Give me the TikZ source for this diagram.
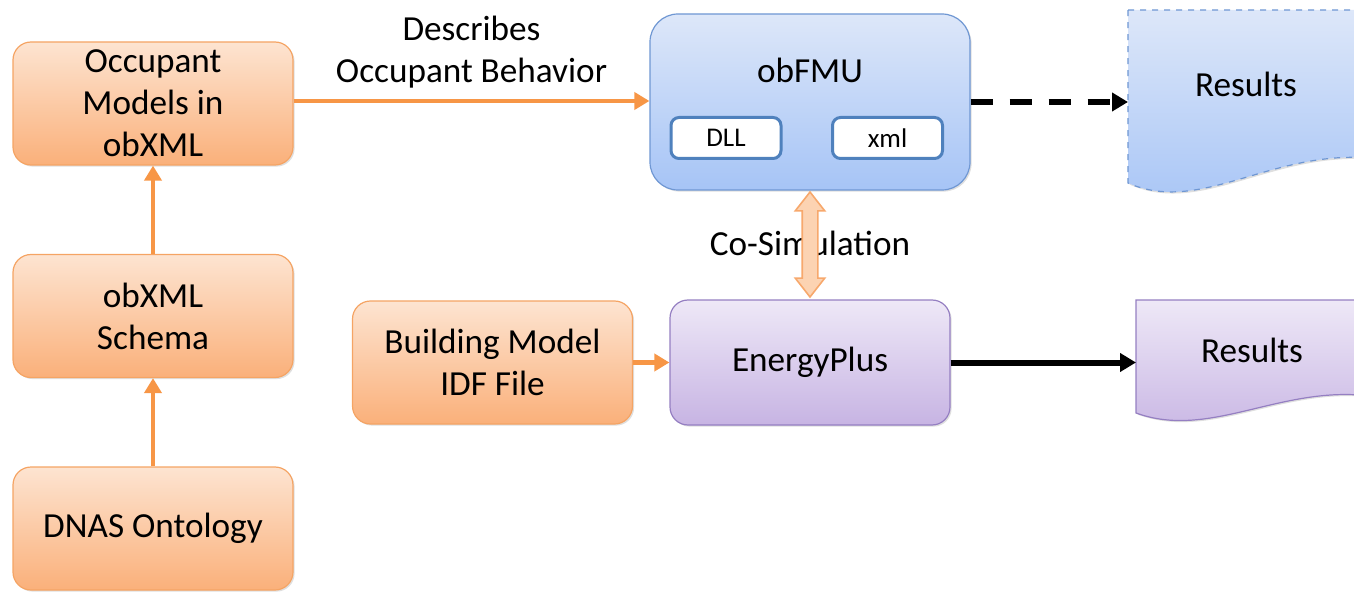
\documentclass[tikz,border=0pt]{standalone}
\usepackage{fontspec}
\setmainfont{Carlito}
\usetikzlibrary{arrows.meta,shapes.arrows,shadows}

\definecolor{orangeline}{HTML}{F5A464}
\definecolor{orangetop}{HTML}{FDE4D1}
\definecolor{orangebot}{HTML}{FAB07A}
\definecolor{orangearrow}{HTML}{F79646}
\definecolor{bluetop}{HTML}{DDE7F9}
\definecolor{bluebot}{HTML}{A6C4F6}
\definecolor{blueline}{HTML}{6F97D3}
\definecolor{innerline}{HTML}{4F81BD}
\definecolor{purpletop}{HTML}{EEE8F7}
\definecolor{purplebot}{HTML}{C7B4E3}
\definecolor{purpleline}{HTML}{957FC2}
\definecolor{cosimfill}{HTML}{FCD3B2}
\definecolor{cosimline}{HTML}{F7A86C}

\tikzset{
	txt/.style={font=\fontsize{17.6}{21}\selectfont, align=center, text=black},
	softshadow/.style={drop shadow={opacity=0.25, shadow xshift=0.8pt, shadow yshift=-0.8pt}},
	orangebox/.style={txt, draw=orangeline, line width=0.6pt, rounded corners=9pt, top color=orangetop, bottom color=orangebot, minimum width=140pt, minimum height=61.5pt, softshadow},
	purplebox/.style={txt, draw=purpleline, line width=0.6pt, rounded corners=9pt, top color=purpletop, bottom color=purplebot, minimum width=140pt, minimum height=62.5pt, softshadow},
	bluebox/.style={draw=blueline, line width=0.6pt, rounded corners=14pt, top color=bluetop, bottom color=bluebot, minimum width=160pt, minimum height=88pt, softshadow},
	smallbox/.style={font=\fontsize{13.5}{16}\selectfont, draw=innerline, line width=1.5pt, fill=white, rounded corners=4pt, minimum width=55pt, minimum height=20.5pt},
	orangearr/.style={orangearrow, line width=2.2pt, -{Triangle[width=8.5pt,length=7.5pt]}},
	blackarr/.style={black, line width=3pt, -{Triangle[width=9pt,length=8pt]}},
}

\begin{document}
\begin{tikzpicture}[x=0.5pt, y=-0.5pt]
	\clip (0, 0) rectangle (1354, 593);

	% left column
	\node[orangebox] (occ) at (153, 103.5) {Occupant\\Models in\\obXML};
	\node[orangebox] (schema) at (153, 316) {obXML\\Schema};
	\node[orangebox] (dnas) at (153, 528.5) {DNAS Ontology};
	\draw[orangearr] (dnas) -- (schema);
	\draw[orangearr] (schema) -- (occ);

	% obFMU
	\node[bluebox] (fmu) at (810, 102) {};
	\node[txt] (fmulabel) at (810, 70) {obFMU};
	\node[smallbox] (dll) at (726, 138) {DLL};
	\node[smallbox] (xml) at (887.5, 138) {xml};
	\draw[orangearr] (occ.east |- 0, 101) -- (fmu.west |- 0, 101) node [txt, midway, above=2pt] {Describes\\Occupant Behavior};

	% results of obFMU
	\draw[draw=blueline, dashed, line width=0.6pt, top color=bluetop, bottom color=bluebot, softshadow]
		(1128, 10) -- (1370, 10) -- (1370, 158)
		.. controls (1270, 150) and (1200, 215) .. (1128, 183) -- cycle;
	\node[txt] (resfmu) at (1246, 84) {Results};
	\coordinate (resfmuin) at (1128, 102);
	\draw[blackarr, dash pattern=on 11pt off 8.5pt] (fmu.east |- resfmuin) -- (resfmuin);

	% EnergyPlus row
	\node[orangebox] (idf) at (492.5, 362.5) {Building Model\\IDF File};
	\node[purplebox] (eplus) at (810, 362.5) {EnergyPlus};
	\draw[orangearr] (idf) -- (eplus);

	\draw[draw=purpleline, line width=0.6pt, top color=purpletop, bottom color=purplebot, softshadow]
		(1136, 300) -- (1370, 300) -- (1370, 396)
		.. controls (1280, 385) and (1210, 440) .. (1136, 413) -- cycle;
	\node[txt] (reseplus) at (1252, 350) {Results};
	\coordinate (reseplusin) at (1136, 362.5);
	\draw[blackarr] (eplus) -- (reseplusin);

	% co-simulation
	\node[txt] (cosimlabel) at (810, 243) {Co-Simulation};
	\node[double arrow, draw=cosimline, fill=cosimfill, line width=0.8pt, rotate=90,
		inner sep=3.5pt, double arrow head extend=3.5pt, double arrow tip angle=76,
		minimum height=52.5pt]
		(cosim) at (810, 244.5) {};
\end{tikzpicture}
\end{document}
